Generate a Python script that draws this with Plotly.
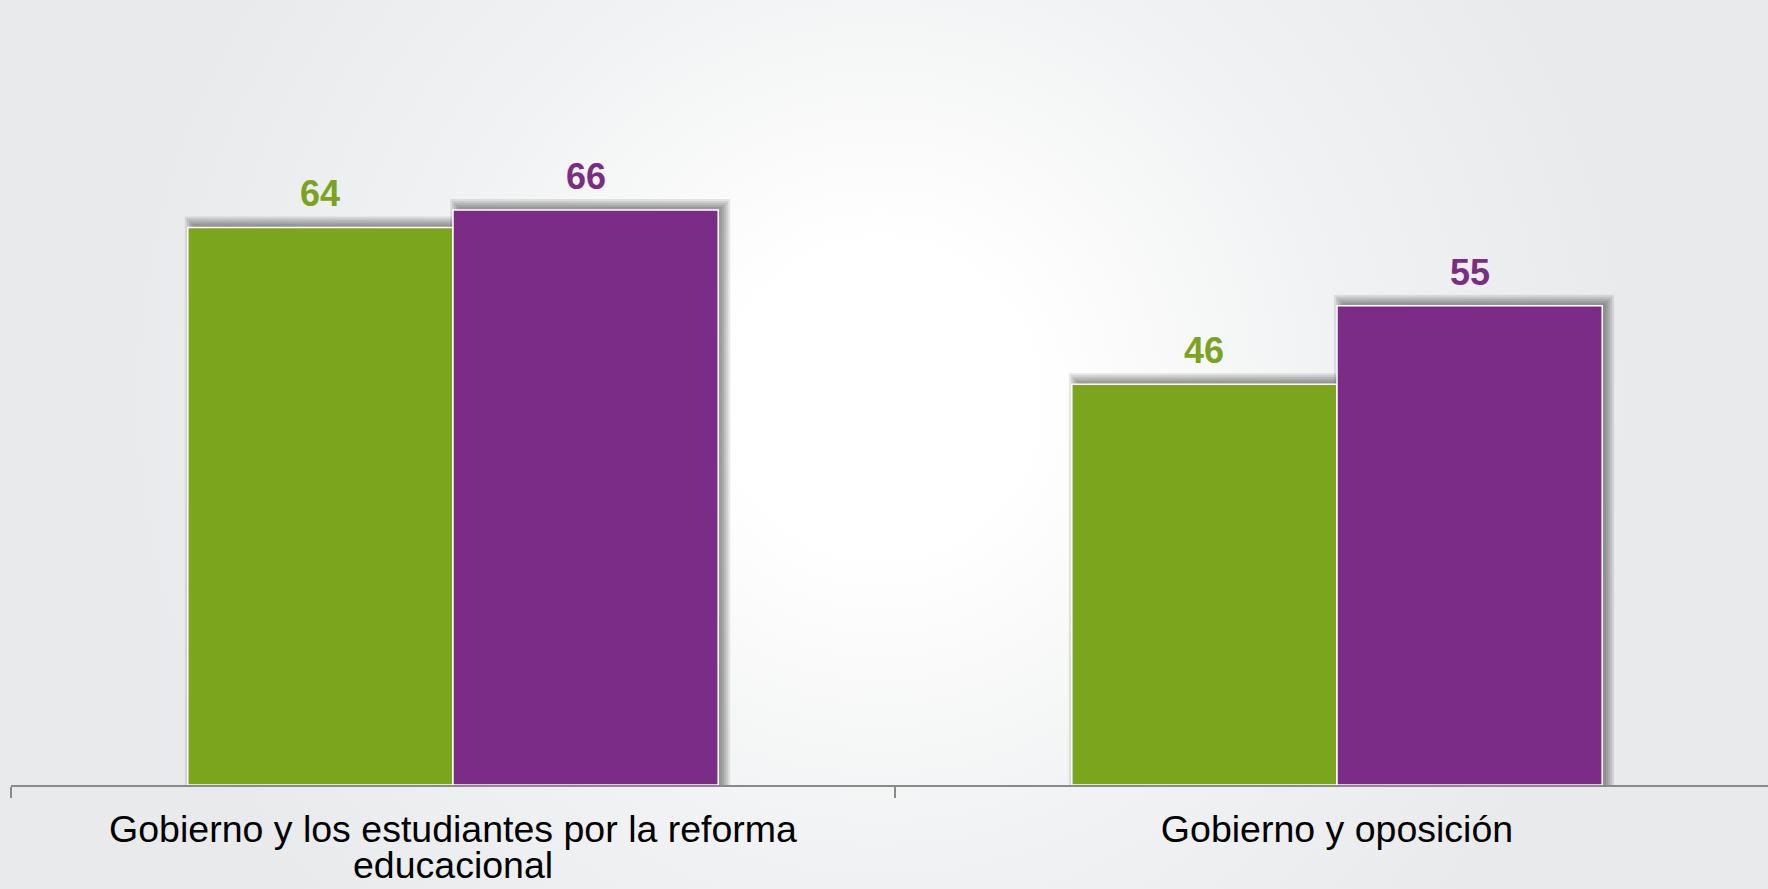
import base64
import plotly.graph_objects as go

# ---- data ----
categories = ["Gobierno y los estudiantes por la reforma educacional", "Gobierno y oposición"]
tick_line1 = ["Gobierno y los estudiantes por la reforma", "Gobierno y oposición"]
tick_line2 = ["educacional", ""]
series_names = ["Serie 1", "Serie 2"]
green_values = [64, 46]
purple_values = [66, 55]

GREEN = "#7ca51e"
PURPLE = "#7b2c87"
GREEN_TXT = "#7aa31f"
PURPLE_TXT = "#7b2d86"

W, H = 1768, 889
ML, MR, MT, MB = 11, 0, 88, 104
plot_w = W - ML - MR
plot_h = H - MT - MB
cat_px = 884.0
x_range = [-0.5, -0.5 + plot_w / cat_px]
y_range = [0, 80]
px_x = 1.0 / cat_px
px_y = (y_range[1] - y_range[0]) / plot_h
BAR_W = 0.3

FONT = "Liberation Sans, Arial, sans-serif"

# background radial gradient as svg
svg = f'''<svg xmlns="http://www.w3.org/2000/svg" width="{W}" height="{H}" viewBox="0 0 {W} {H}">
<defs><radialGradient id="g" gradientUnits="userSpaceOnUse" cx="880" cy="400" r="760">
<stop offset="0" stop-color="#ffffff"/>
<stop offset="0.2" stop-color="#ffffff"/>
<stop offset="0.6" stop-color="#f1f2f3"/>
<stop offset="1" stop-color="#e9eaec"/>
</radialGradient></defs>
<rect x="0" y="0" width="{W}" height="{H}" fill="url(#g)"/>
</svg>'''
bg_src = "data:image/svg+xml;base64," + base64.b64encode(svg.encode()).decode()

fig = go.Figure()
fig.add_trace(go.Bar(x=categories, y=green_values, name=series_names[0],
                     marker=dict(color=GREEN, line=dict(color="white", width=1.5)),
                     hoverinfo="skip"))
fig.add_trace(go.Bar(x=categories, y=purple_values, name=series_names[1],
                     marker=dict(color=PURPLE, line=dict(color="white", width=1.5)),
                     hoverinfo="skip"))

shapes = []
annotations = []
for vals, off, col in [(green_values, -BAR_W / 2, GREEN_TXT), (purple_values, BAR_W / 2, PURPLE_TXT)]:
    for i, v in enumerate(vals):
        cx = i + off
        left = cx - BAR_W / 2
        right = cx + BAR_W / 2
        # soft drop shadow (up-right)
        for e in [0, 2, 4, 6, 8]:
            shapes.append(dict(type="rect", xref="x", yref="y", layer="below",
                               x0=left + (5 - e) * px_x, x1=right + (4 + e) * px_x,
                               y0=0, y1=v + (3 + e) * px_y,
                               fillcolor="rgba(0,0,0,0.09)", line=dict(width=0)))
        annotations.append(dict(x=cx, y=v, xref="x", yref="y", text=f"<b>{v}</b>",
                                showarrow=False, yanchor="bottom", yshift=11,
                                font=dict(family=FONT, size=36, color=col)))

for i, t in enumerate(tick_line2):
    if t:
        annotations.append(dict(x=i, y=0, xref="x", yref="paper", text=t, showarrow=False,
                                yanchor="top", yshift=-58, borderpad=0,
                                font=dict(family=FONT, size=37.5, color="black")))

fig.update_layout(
    width=W, height=H,
    margin=dict(l=ML, r=MR, t=MT, b=MB, pad=0),
    paper_bgcolor="#e9eaec",
    plot_bgcolor="rgba(0,0,0,0)",
    barmode="group", bargap=0.4, bargroupgap=0,
    showlegend=False,
    shapes=shapes,
    annotations=annotations,
    images=[dict(source=bg_src, xref="paper", yref="paper",
                 x=-ML / plot_w, y=1 + MT / plot_h,
                 sizex=W / plot_w, sizey=H / plot_h,
                 xanchor="left", yanchor="top", sizing="stretch", layer="below")],
    xaxis=dict(type="category", range=x_range, tickmode="array",
               tickvals=categories, ticktext=tick_line1, tickson="boundaries",
               ticks="outside", ticklen=11, tickwidth=2, tickcolor="#8a8a8a",
               showline=True, linecolor="#8a8a8a", linewidth=2,
               showgrid=False, zeroline=False, ticklabelstandoff=10,
               tickfont=dict(family=FONT, size=37.5, color="black")),
    yaxis=dict(range=y_range, visible=False, showgrid=False, zeroline=False),
)

fig.write_html("out.html", config={"displayModeBar": False},
               post_script="document.body.style.margin='0';document.body.style.overflow='hidden';")
